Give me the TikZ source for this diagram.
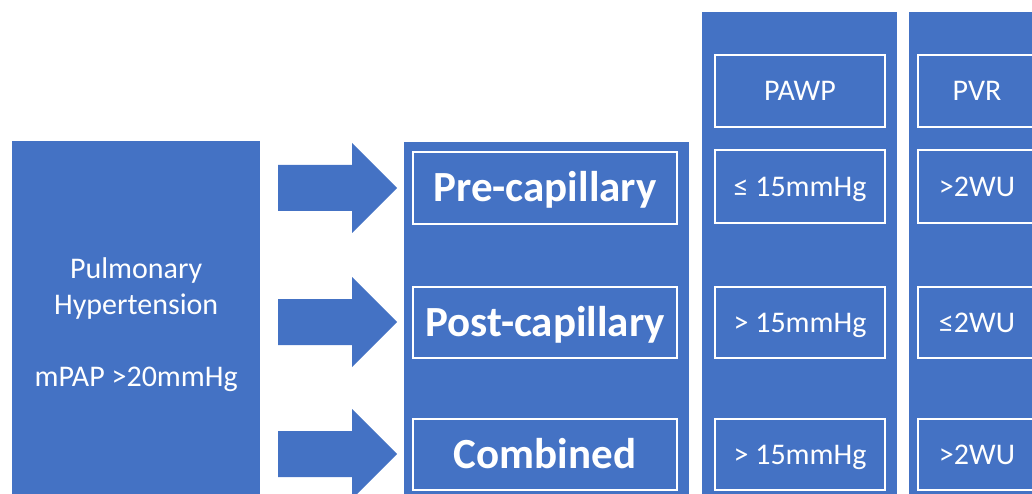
\documentclass[tikz,border=0pt]{standalone}
\usepackage{fontspec}
\setmainfont{Carlito}
\definecolor{ob}{HTML}{4472C4}
\begin{document}
\begin{tikzpicture}[x=1pt,y=-1pt,
  colbox/.style={fill=ob, draw=none, inner sep=0pt, anchor=north west},
  cell/.style={draw=white, line width=1.8pt, fill=ob, text=white, inner sep=0pt,
    font=\fontsize{30}{36}\selectfont, text height=19.3pt, text depth=0pt, align=center},
  bigcell/.style={cell, font=\fontsize{43}{52}\selectfont\bfseries, text height=27.7pt},
  arrowshape/.style={fill=ob}]
\useasboundingbox (0,0) rectangle (1032,494);
\clip (0,0) rectangle (1032,494);
% left box
\node[colbox, minimum width=248pt, minimum height=366pt] (ph) at (12,141) {};
\node[text=white, align=center, inner sep=0pt, font=\fontsize{30}{36}\selectfont,
  text height=19.3pt, text depth=0pt, yshift=-53pt] (phtext) at (ph.center)
  {Pulmonary\\Hypertension\\[36pt]mPAP >20mmHg};
% columns
\node[colbox, minimum width=285pt, minimum height=366pt] (c2) at (404,142) {};
\node[colbox, minimum width=195pt, minimum height=500pt] (c3) at (702,12) {};
\node[colbox, minimum width=140pt, minimum height=500pt] (c4) at (909,12) {};
% arrows
\foreach \yy/\nm in {188/a1,322/a2,454/a3}{
  \fill[arrowshape, shift={(0,\yy)}] (278,-23) -- (352,-23) -- (352,-45) -- (397,0)
    -- (352,45) -- (352,23) -- (278,23) -- cycle;
  \coordinate (\nm) at (397,\yy);
}
% column 2 cells
\node[bigcell, minimum width=264pt, minimum height=72pt] (pre) at (545,188) {Pre-capillary};
\node[bigcell, minimum width=264pt, minimum height=71pt] (post) at (545,322.5) {Post-capillary};
\node[bigcell, minimum width=264pt, minimum height=71pt] (comb) at (545,454.5) {Combined};
% column 3 cells
\node[cell, minimum width=170pt, minimum height=72pt] (pawp) at (800,91) {PAWP};
\node[cell, minimum width=170pt, minimum height=73pt] (p1) at (800,186.5) {≤ 15mmHg};
\node[cell, minimum width=170pt, minimum height=71pt] (p2) at (800,322.5) {> 15mmHg};
\node[cell, minimum width=170pt, minimum height=71pt] (p3) at (800,454.5) {> 15mmHg};
% column 4 cells
\node[cell, minimum width=118pt, minimum height=72pt] (pvr) at (977,91) {PVR};
\node[cell, minimum width=118pt, minimum height=73pt] (v1) at (977,186.5) {>2WU};
\node[cell, minimum width=118pt, minimum height=71pt] (v2) at (977,322.5) {≤2WU};
\node[cell, minimum width=118pt, minimum height=71pt] (v3) at (977,454.5) {>2WU};
\end{tikzpicture}
\end{document}
